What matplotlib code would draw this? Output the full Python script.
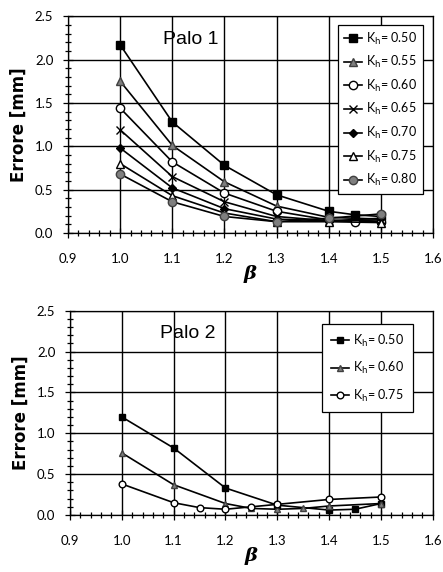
import numpy as np
import matplotlib.pyplot as plt
from matplotlib.ticker import MultipleLocator

# Palo 1 data
b1_full = [1.0, 1.1, 1.2, 1.3, 1.4, 1.45, 1.5]
b1 = [1.0, 1.1, 1.2, 1.3, 1.4, 1.5]
k050_p1 = [2.17, 1.28, 0.78, 0.44, 0.25, 0.21, 0.19]
k055_p1 = [1.75, 1.01, 0.59, 0.31, 0.18, 0.16]
k060_p1 = [1.44, 0.82, 0.46, 0.25, 0.15, 0.13, 0.13]
k065_p1 = [1.19, 0.65, 0.36, 0.19, 0.14, 0.15]
k070_p1 = [0.98, 0.52, 0.28, 0.16, 0.14, 0.17]
k075_p1 = [0.80, 0.43, 0.23, 0.13, 0.13, 0.12]
k080_p1 = [0.68, 0.36, 0.19, 0.13, 0.17, 0.22]

# Palo 2 data
b2_k050 = [1.0, 1.1, 1.2, 1.3, 1.4, 1.45, 1.5]
k050_p2 = [1.20, 0.82, 0.33, 0.12, 0.06, 0.07, 0.14]
b2_k060 = [1.0, 1.1, 1.2, 1.25, 1.3, 1.35, 1.4, 1.5]
k060_p2 = [0.76, 0.37, 0.14, 0.08, 0.07, 0.08, 0.11, 0.14]
b2_k075 = [1.0, 1.1, 1.15, 1.2, 1.25, 1.3, 1.4, 1.5]
k075_p2 = [0.38, 0.15, 0.09, 0.07, 0.10, 0.13, 0.19, 0.22]

tick_font = 'Lato'
grey = '#7f7f7f'

fig = plt.figure(figsize=(4.43, 5.72), dpi=100)
ax1 = fig.add_axes([0.1535, 0.5927, 0.824, 0.379])
ax2 = fig.add_axes([0.158, 0.0997, 0.819, 0.357])


def style_axes(ax, title, tx):
    ax.set_xlim(0.9, 1.6)
    ax.set_ylim(0, 2.5)
    ax.xaxis.set_major_locator(MultipleLocator(0.1))
    ax.xaxis.set_minor_locator(MultipleLocator(0.02))
    ax.yaxis.set_major_locator(MultipleLocator(0.5))
    ax.yaxis.set_minor_locator(MultipleLocator(0.1))
    ax.grid(True, which='major', color='black', lw=1.0)
    ax.set_axisbelow(True)
    ax.tick_params(which='both', direction='inout', color='black', width=0.9)
    ax.tick_params(which='major', length=7, labelsize=9.5)
    ax.tick_params(axis='x', which='major', pad=11)
    ax.tick_params(axis='y', which='major', pad=7)
    ax.tick_params(which='minor', length=5)
    ax.xaxis.set_major_formatter(plt.FuncFormatter(lambda v, p: '%.1f' % v))
    ax.yaxis.set_major_formatter(plt.FuncFormatter(lambda v, p: '%.1f' % v))
    for lab in ax.get_xticklabels() + ax.get_yticklabels():
        lab.set_family(tick_font)
    for sp in ax.spines.values():
        sp.set_color('black')
        sp.set_linewidth(0.9)
    ax.set_ylabel('Errore [mm]', fontsize=12, fontweight='bold', family='DejaVu Sans', labelpad=5)
    ax.set_xlabel('β', fontsize=14, fontweight='bold', style='italic', family='DejaVu Serif', labelpad=0)
    ax.text(tx, 0.93, title, transform=ax.transAxes, fontsize=14,
            family='Liberation Sans', ha='left', va='top')


def lab(k):
    return r'K$_\mathrm{h}$= ' + k


lw = 1.2
ms = 5.5
ax1.plot(b1_full, k050_p1, '-s', color='black', lw=lw, ms=ms, mfc='black', mec='black', label=lab('0.50'))
ax1.plot(b1, k055_p1, '-^', color='black', lw=lw, ms=ms, mfc=grey, mec='#404040', label=lab('0.55'))
ax1.plot(b1_full, k060_p1, '-o', color='black', lw=lw, ms=ms + 0.5, mfc='white', mec='black', label=lab('0.60'))
ax1.plot(b1, k065_p1, '-x', color='black', lw=lw, ms=ms + 0.5, mec='black', label=lab('0.65'))
ax1.plot(b1, k070_p1, '-D', color='black', lw=lw, ms=3.8, mfc='black', mec='black', label=lab('0.70'))
ax1.plot(b1, k075_p1, '-^', color='black', lw=lw, ms=ms, mfc='white', mec='black', label=lab('0.75'))
ax1.plot(b1, k080_p1, '-o', color='black', lw=lw, ms=ms + 0.5, mfc=grey, mec='#404040', label=lab('0.80'))
style_axes(ax1, 'Palo 1', 0.26)
leg1 = ax1.legend(loc='upper right', bbox_to_anchor=(0.972, 0.96), fontsize=9, frameon=True,
                  fancybox=False, edgecolor='black', handlelength=1.5, handletextpad=0.3,
                  labelspacing=0.6, borderpad=0.45, borderaxespad=0)
leg1.get_frame().set_linewidth(0.9)
leg1.get_frame().set_alpha(1)
for t in leg1.get_texts():
    t.set_family(tick_font)

ax2.plot(b2_k050, k050_p2, '-s', color='black', lw=lw, ms=4.8, mfc='black', mec='black', label=lab('0.50'))
ax2.plot(b2_k060, k060_p2, '-^', color='black', lw=lw, ms=4.8, mfc=grey, mec='#404040', label=lab('0.60'))
ax2.plot(b2_k075, k075_p2, '-o', color='black', lw=lw, ms=4.8, mfc='white', mec='black', label=lab('0.75'))
style_axes(ax2, 'Palo 2', 0.248)
leg2 = ax2.legend(loc='upper right', bbox_to_anchor=(0.945, 0.935), fontsize=9, frameon=True,
                  fancybox=False, edgecolor='black', handlelength=1.5, handletextpad=0.3,
                  labelspacing=0.9, borderpad=0.7, borderaxespad=0)
leg2.get_frame().set_linewidth(0.9)
leg2.get_frame().set_alpha(1)
for t in leg2.get_texts():
    t.set_family(tick_font)

fig.savefig('out.png', dpi=100)
